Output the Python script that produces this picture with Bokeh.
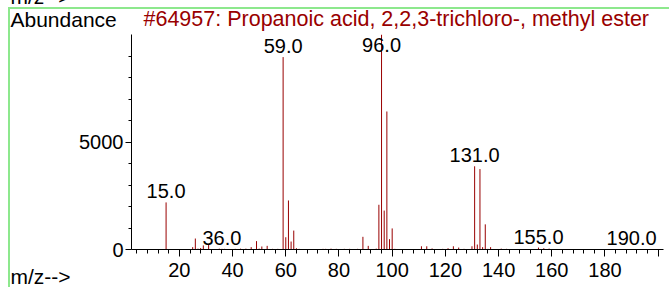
from bokeh.plotting import figure
from bokeh.models import Range1d, FixedTicker, Label
from bokeh.embed import file_html
from bokeh.resources import INLINE
from bokeh.core.properties import value

# ---- data ----
mz = [15, 25, 26, 27, 28, 29, 31, 35, 36, 37, 41, 43, 45, 47, 49, 50, 51, 53, 55, 57,
      59, 60, 61, 62, 63, 64, 65, 74, 75, 77, 79, 82, 84, 87, 89, 91, 94,
      95, 96, 97, 98, 99, 100, 101, 111, 113, 115, 119, 121, 123, 125, 127,
      130, 131, 132, 133, 134, 135, 136, 137, 141, 143, 155, 157, 159, 190]
abundance = [2190, 110, 510, 40, 70, 190, 220, 40, 30, 30, 30, 40, 40, 110, 390, 40, 140, 170, 30, 30,
             8950, 570, 2280, 370, 880, 60, 30, 30, 30, 40, 30, 30, 30, 30, 590, 170, 40,
             2080, 9999, 1810, 6420, 480, 980, 30, 150, 150, 50, 30, 60, 150, 90, 30,
             150, 3870, 230, 3740, 110, 1170, 30, 110, 40, 30, 90, 60, 40, 10]
label_mz = [15, 36, 59, 96, 131, 155, 190]
x_ticks = [20, 40, 60, 80, 100, 120, 140, 160, 180, 200]
x_tick_labels = ["20", "40", "60", "80", "100", "120", "140", "160", "180", ""]
y_ticks = [0, 5000]
title_text = "#64957: Propanoic acid, 2,2,3-trichloro-, methyl ester"
y_title = "Abundance"
x_title = "m/z-->"

# ---- layout constants (page px) ----
W, H = 669, 287
FL, FR, FT, FB = 131, 663, 34, 249   # frame edges on the page
TOP = 150                            # canvas top border (holds the text panel)
SHIFT = TOP - FT                     # canvas is pulled up by this many px
X0, X1 = 2, 202
Y0, Y1 = 0, 10000
LABEL_CAP = 8980                     # peak labels never go higher than this
FONT = "Liberation Sans"
RED = "#990000"
GREEN = "#8de88d"
DESC = 4                             # approx. descent of 21px text

p = figure(width=W, height=H + SHIFT, output_backend="svg", toolbar_location=None,
           x_range=Range1d(X0, X1), y_range=Range1d(Y0, Y1),
           min_border_left=FL, min_border_right=W - FR,
           min_border_top=TOP, min_border_bottom=H - FB,
           styles={"margin-top": f"-{SHIFT}px",
                   "background": (
                       f"linear-gradient({GREEN},{GREEN}) 8px {7 + SHIFT}px / 2px 300px no-repeat, "
                       f"linear-gradient({GREEN},{GREEN}) 8px {7 + SHIFT}px / 661px 2px no-repeat, white")})
p.grid.visible = False
p.outline_line_color = None
p.background_fill_color = "white"
p.border_fill_color = None

# peaks
p.segment(x0=mz, y0=[0] * len(mz), x1=mz, y1=abundance, line_color=RED, line_width=1)

# peak labels
ab_map = dict(zip(mz, abundance))
lab_y = [min(ab_map[m], LABEL_CAP) for m in label_mz]
lab_t = ["%.1f" % m for m in label_mz]
p.text(x=label_mz, y=lab_y, text=lab_t, text_align="center", text_baseline="bottom",
       y_offset=-4, text_font=value(FONT), text_font_size="20px", text_color="black")

# axes
xa = p.xaxis[0]
xa.ticker = FixedTicker(ticks=x_ticks, minor_ticks=list(range(4, 201, 4)))
xa.major_label_overrides = {t: l for t, l in zip(x_ticks, x_tick_labels)}
xa.major_tick_in = 0
xa.major_tick_out = 7
xa.minor_tick_in = 0
xa.minor_tick_out = 4
xa.major_label_standoff = 6
xa.major_label_text_font = FONT
xa.major_label_text_font_size = "20px"
xa.major_label_text_color = "black"
xa.axis_line_color = "black"
xa.major_tick_line_color = "black"
xa.minor_tick_line_color = "black"

ya = p.yaxis[0]
ya.ticker = FixedTicker(ticks=y_ticks, minor_ticks=list(range(1000, 10000, 1000)))
ya.major_tick_in = 0
ya.major_tick_out = 6
ya.minor_tick_in = 0
ya.minor_tick_out = 3
ya.major_label_standoff = 2
ya.major_label_text_font = FONT
ya.major_label_text_font_size = "20px"
ya.major_label_text_color = "black"
ya.axis_line_color = "black"
ya.major_tick_line_color = "black"
ya.minor_tick_line_color = "black"

# free texts: canvas units, placed in the top side panel so they are not clipped
def lab(x, baseline, t, color="black", size="21px"):
    p.add_layout(Label(x=x, y=baseline + SHIFT + DESC, x_units="canvas", y_units="canvas", text=t,
                       text_font=FONT, text_font_size=size, text_color=color,
                       text_baseline="bottom"), "above")

lab(10, 26, y_title)
lab(143, 26, title_text, RED, "21.5px")
lab(10, 283, x_title)
lab(10, 3, x_title)

open("out.html", "w").write(file_html(p, INLINE))
